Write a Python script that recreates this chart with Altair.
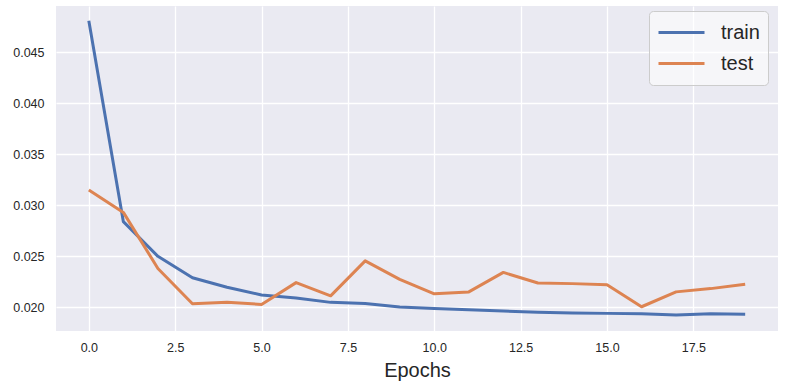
import altair as alt
import pandas as pd

epochs = list(range(20))
train_loss = [0.0481, 0.02838, 0.02498, 0.02288, 0.02194, 0.02119, 0.0209, 0.02046,
              0.02036, 0.0200, 0.01986, 0.01974, 0.01961, 0.01948, 0.01942, 0.01938,
              0.01935, 0.01922, 0.01935, 0.01929]
test_loss = [0.03149, 0.02929, 0.02379, 0.02032, 0.02046, 0.02026, 0.0224, 0.0211,
             0.02453, 0.02272, 0.0213, 0.02149, 0.0234, 0.02236, 0.0223, 0.0222,
             0.02003, 0.02149, 0.02181, 0.02223]
series = ["train", "test"]
colors = ["#4c72b0", "#dd8452"]
x_ticks = [0, 2.5, 5, 7.5, 10, 12.5, 15, 17.5]
y_ticks = [0.020, 0.025, 0.030, 0.035, 0.040, 0.045]

df = pd.concat([
    pd.DataFrame({"epoch": epochs, "loss": train_loss, "series": "train", "order": 0}),
    pd.DataFrame({"epoch": epochs, "loss": test_loss, "series": "test", "order": 1}),
])

FONT = "Liberation Sans"

chart = alt.Chart(df).mark_line(strokeWidth=3, strokeCap="butt", strokeJoin="round").encode(
    x=alt.X("epoch:Q", title="Epochs",
            scale=alt.Scale(domain=[-0.95, 19.95], nice=False, zero=False),
            axis=alt.Axis(values=x_ticks, format=".1f", grid=True, gridColor="white",
                          gridWidth=1.3, domain=False, ticks=False, labelPadding=10,
                          labelFontSize=12.5, labelColor="#262626", labelFont=FONT,
                          titleFont=FONT, titleFontSize=20, titleFontWeight="normal",
                          titleColor="#262626", titleBaseline="alphabetic", titleY=45,
                          labelFlush=False)),
    y=alt.Y("loss:Q", title=None,
            scale=alt.Scale(domain=[0.01765, 0.04955], nice=False, zero=False),
            axis=alt.Axis(values=y_ticks, format=".3f", grid=True, gridColor="white",
                          gridWidth=1.3, domain=False, ticks=False, labelPadding=12,
                          labelFontSize=12.5, labelColor="#262626", labelFont=FONT,
                          labelFlush=False)),
    color=alt.Color("series:N", scale=alt.Scale(domain=series, range=colors),
                    legend=alt.Legend(title=None, orient="none", legendX=593, legendY=5,
                                      symbolType="stroke", symbolSize=2116,
                                      symbolStrokeWidth=3, labelFontSize=20,
                                      labelFont=FONT, labelColor="#262626",
                                      labelOffset=15, clipHeight=27, rowPadding=4,
                                      padding=8, fillColor="rgba(255,255,255,0.55)",
                                      strokeColor="#cccccc", cornerRadius=4)),
    order="order:Q",
).properties(
    width=722, height=325,
    autosize=alt.AutoSizeParams(type="none"),
    padding={"left": 56, "top": 6, "right": 13, "bottom": 54},
).configure(
    background="white",
    view=alt.ViewConfig(fill="#eaeaf2", strokeWidth=0),
)

chart.save("out.html", embed_options={"renderer": "svg", "actions": False})
